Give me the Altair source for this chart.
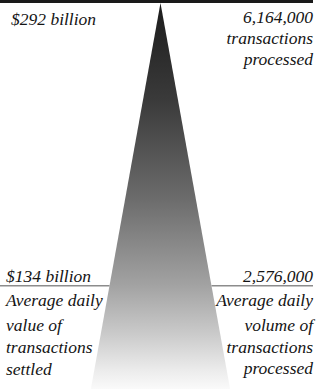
import altair as alt
import pandas as pd

# ---- data ----
top_left_lines = ["$292 billion"]
top_right_lines = ["6,164,000", "transactions", "processed"]
bottom_left_lines = ["$134 billion", "Average daily", "value of", "transactions", "settled"]
bottom_right_lines = ["2,576,000", "Average daily", "volume of", "transactions", "processed"]

# funnel shape: relative depth and half-spread (1 = level of daily average)
funnel_stage = ["peak", "average", "base"]
funnel_depth = [0.0, 1.0, 1.365]
funnel_spread = [0.0, 1.0, 1.365]

W, H = 322, 389
FONT = "Liberation Serif"

funnel = pd.DataFrame({
    "stage": funnel_stage,
    "depth": funnel_depth,
    "left": [-s for s in funnel_spread],
    "right": funnel_spread,
})

xs = alt.Scale(domain=[-3.147, 3.167], range=[0, W])
ys = alt.Scale(domain=[0, 1.365], range=[3, H])

grad = alt.Gradient(
    gradient="linear",
    x1=0, y1=0, x2=0, y2=1,
    stops=[
        alt.GradientStop(offset=0.0, color="#1c1c1c"),
        alt.GradientStop(offset=0.25, color="#3a3a3a"),
        alt.GradientStop(offset=0.5, color="#6a6a6a"),
        alt.GradientStop(offset=0.73, color="#a2a2a2"),
        alt.GradientStop(offset=0.86, color="#cbcbcb"),
        alt.GradientStop(offset=0.95, color="#ebebeb"),
        alt.GradientStop(offset=1.0, color="#fafafa"),
    ],
)

tri = alt.Chart(funnel).mark_area(orient="horizontal", color=grad).encode(
    y=alt.Y("depth:Q", scale=ys, axis=None),
    x=alt.X("left:Q", scale=xs, axis=None),
    x2="right:Q",
)

# top bar
top_bar = alt.Chart(pd.DataFrame({"a": [0]})).mark_rule(color="#1a1a1a", strokeWidth=3).encode(
    x=alt.value(0), x2=alt.value(313), y=alt.value(1.5)
)

# average level lines
avg = funnel[funnel["stage"] == "average"]
lines_l = alt.Chart(avg).mark_rule(color="#8c8c8c", strokeWidth=1.5).encode(
    y=alt.Y("depth:Q", scale=ys, axis=None),
    x=alt.X("left:Q", scale=xs, axis=None),
    x2=alt.value(0),
)
lines_r = alt.Chart(avg).mark_rule(color="#8c8c8c", strokeWidth=1.5).encode(
    y=alt.Y("depth:Q", scale=ys, axis=None),
    x=alt.X("right:Q", scale=xs, axis=None),
    x2=alt.value(313),
)


def text_block(lines, x, y0, step, align, font=FONT):
    layers = []
    for i, t in enumerate(lines):
        layers.append(
            alt.Chart(pd.DataFrame({"t": [t]})).mark_text(
                align=align, baseline="alphabetic", font=font, fontSize=17.5,
                fontStyle="italic", color="#141414",
            ).encode(text="t:N", x=alt.value(x), y=alt.value(y0 + step[i]))
        )
    return layers


layers = [tri, top_bar, lines_l, lines_r]
layers += text_block(top_left_lines, 11, 25, [0], "left")
layers += text_block(top_right_lines, 313, 23, [0, 21, 42], "right")
layers += text_block(bottom_left_lines, 6, 282, [0, 24, 49, 71, 93], "left")
layers += text_block(bottom_right_lines, 313, 282, [0, 24, 49, 71, 92], "right")

chart = alt.layer(*layers).properties(
    width=W, height=H, padding=0, autosize=alt.AutoSizeParams(type="none")
).configure_view(stroke=None)

chart.save("out.html", embed_options={"renderer": "svg", "actions": False})
